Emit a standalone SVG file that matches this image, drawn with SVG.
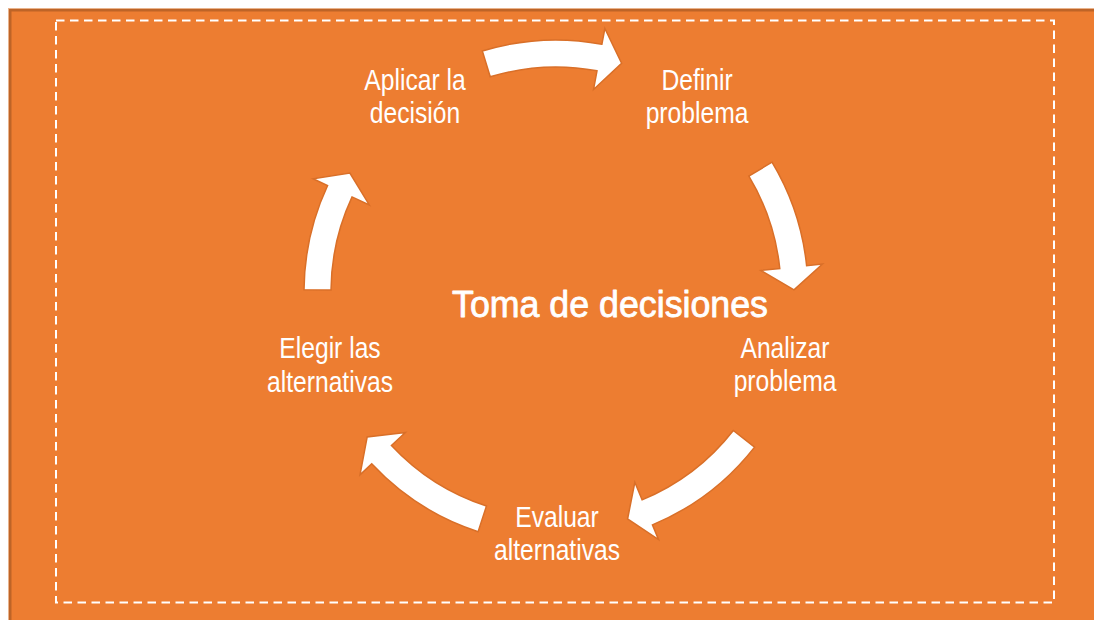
<svg xmlns="http://www.w3.org/2000/svg" width="1094" height="620" viewBox="0 0 1094 620">
  <style>
    .arrow { fill: #FFFFFF; stroke: #D96F28; stroke-width: 1.5; stroke-linejoin: miter; }
    .lbl { font-family: "Liberation Sans", Arial, sans-serif; font-size: 29px; fill: #FFFFFF; text-anchor: middle; }
    .title { font-family: "Liberation Sans", Arial, sans-serif; font-size: 36px; fill: #FFFFFF; stroke: #FFFFFF; stroke-width: 0.8px; stroke-linejoin: round; }
  </style>
  <rect x="0" y="0" width="1094" height="620" fill="#FFFFFF"/>
  <g id="background">
    <rect x="8" y="8" width="1100" height="700" fill="#E9B38C"/>
    <rect x="9" y="9" width="1100" height="700" fill="#BE6427"/>
    <rect x="11.5" y="11.5" width="1100" height="700" fill="#ED7D31"/>
    <rect x="56" y="20.5" width="998" height="582" fill="none" stroke="#FFFFFF" stroke-width="2" stroke-dasharray="8.5 5.5"/>
  </g>
  <g id="connectors">
    <path class="arrow" d="M482.32,51.01 A252,252 0 0 1 601.92,44.22 L604.84,28.49 L621.60,63.22 L593.54,89.45 L597.00,70.77 A225,225 0 0 0 490.22,76.83 Z"/>
    <path class="arrow" d="M772.01,162.21 A252,252 0 0 1 806.62,265.66 L822.53,263.99 L793.99,289.92 L760.87,270.47 L779.77,268.48 A225,225 0 0 0 748.86,176.12 Z"/>
    <path class="arrow" d="M754.58,447.15 A252,252 0 0 1 652.44,524.82 L658.56,539.60 L627.57,518.99 L634.83,482.32 L642.10,499.87 A225,225 0 0 0 733.30,430.52 Z"/>
    <path class="arrow" d="M478.13,531.67 A252,252 0 0 1 371.70,463.86 L360.00,474.78 L367.18,436.88 L405.34,432.49 L391.45,445.45 A225,225 0 0 0 486.47,505.99 Z"/>
    <path class="arrow" d="M304.01,289.80 A252,252 0 0 1 327.61,185.50 L313.11,178.74 L349.89,173.00 L369.30,204.94 L352.08,196.91 A225,225 0 0 0 331.01,290.04 Z"/>
  </g>
  <g id="title">
    <text class="title" x="452" y="317" textLength="316" lengthAdjust="spacingAndGlyphs">Toma de decisiones</text>
  </g>
  <g id="node-definir">
    <text class="lbl" transform="translate(697 0) scale(0.85 1)"><tspan x="0" y="90">Definir</tspan><tspan x="0" y="123">problema</tspan></text>
  </g>
  <g id="node-analizar">
    <text class="lbl" transform="translate(785 0) scale(0.85 1)"><tspan x="0" y="358">Analizar</tspan><tspan x="0" y="391">problema</tspan></text>
  </g>
  <g id="node-evaluar">
    <text class="lbl" transform="translate(557 0) scale(0.85 1)"><tspan x="0" y="527">Evaluar</tspan><tspan x="0" y="560">alternativas</tspan></text>
  </g>
  <g id="node-elegir">
    <text class="lbl" transform="translate(330 0) scale(0.85 1)"><tspan x="0" y="358">Elegir las</tspan><tspan x="0" y="392">alternativas</tspan></text>
  </g>
  <g id="node-aplicar">
    <text class="lbl" transform="translate(415 0) scale(0.85 1)"><tspan x="0" y="90">Aplicar la</tspan><tspan x="0" y="123">decisión</tspan></text>
  </g>
</svg>
